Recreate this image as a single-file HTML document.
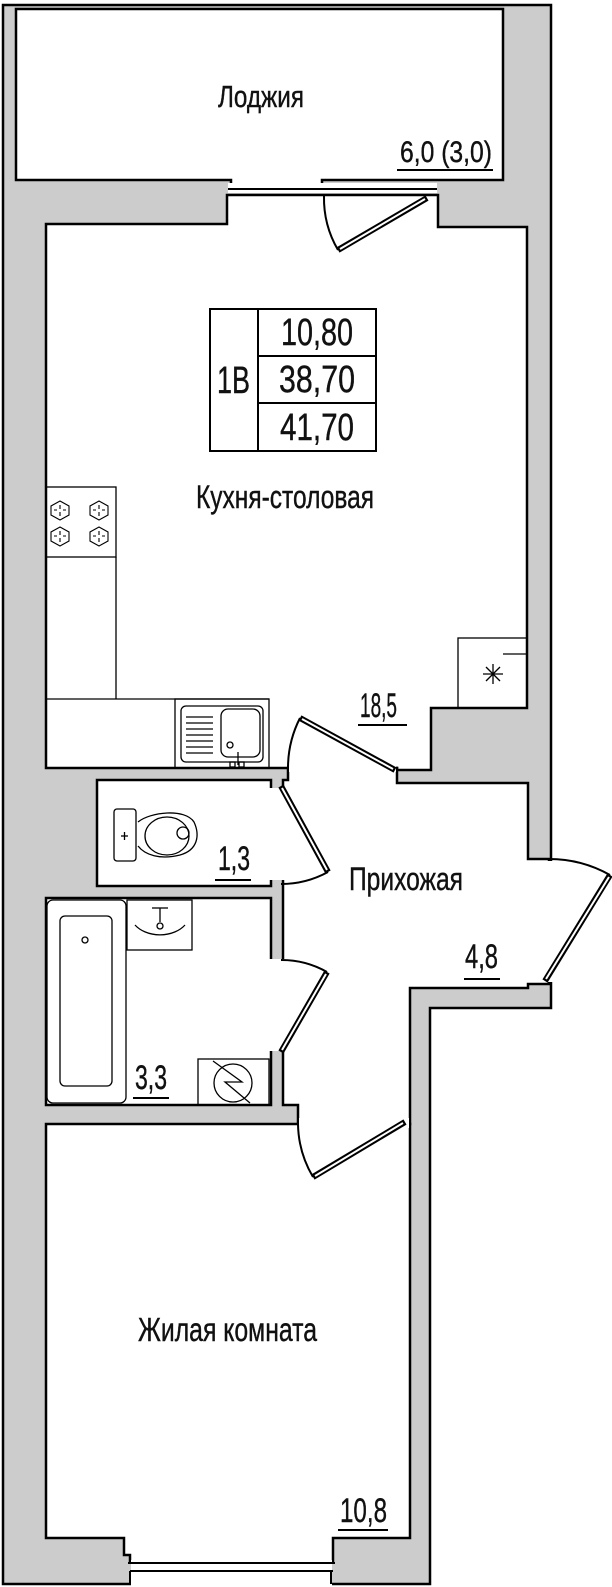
<!DOCTYPE html>
<html><head><meta charset="utf-8"><style>
html,body{margin:0;padding:0;background:#fff;}
svg{display:block;}
text{font-family:"Liberation Sans Narrow","Liberation Sans",sans-serif;fill:#111;stroke:#111;stroke-width:0.4;}
</style></head><body>
<svg width="612" height="1587" viewBox="0 0 612 1587" xmlns="http://www.w3.org/2000/svg">
<polygon points="3,5 551,5 551,1008 430,1008 430,1584 3,1584" fill="#cccccc" stroke="#000" stroke-width="2.5"/>
<g fill="#fff" stroke="#000" stroke-width="2.5">
<polygon points="16,9 503,9 503,180 322,180 322,189 231,189 231,180 16,180"/>
<polygon points="46,224 227,224 227,195 438,195 438,227 527,227 527,708 431,708 431,770 397,770 397,768 46,768"/>
<polygon points="288,768 397,768 397,783 528,783 528,859 549,859 549,984 528,984 528,988 410,988 410,1124 298,1124 298,1105 283,1105 283,780 288,780"/>
<rect x="97" y="780" width="174" height="106"/>
<rect x="46" y="898" width="225" height="207"/>
<polygon points="46,1124 410,1124 410,1538 333,1538 333,1562 130,1562 130,1555 124,1555 124,1538 46,1538"/>
</g>
<g fill="#fff">
<rect x="289" y="764" width="107" height="8"/>
<rect x="268" y="788" width="18" height="92"/>
<rect x="268" y="959" width="18" height="92"/>
<rect x="299" y="1118" width="110" height="10"/>
<rect x="544" y="861" width="12" height="121"/>
<rect x="131" y="1560" width="201" height="27"/>
<rect x="228" y="183" width="209" height="10"/>
</g>
<g stroke="#000" stroke-width="2" fill="none">
<line x1="128" y1="1563" x2="335" y2="1563"/>
<line x1="130" y1="1571" x2="333" y2="1571"/>
<line x1="130" y1="1571" x2="130" y2="1584"/>
<line x1="331" y1="1571" x2="331" y2="1584"/>
<line x1="228" y1="189" x2="437" y2="189"/>
</g>
<g fill="none" stroke="#000" stroke-width="2">
<path d="M338,250 A103,103 0 0 1 324,196"/>
<path d="M300,718 A110,110 0 0 0 288,768"/>
<path d="M328,872 A98,98 0 0 1 281,884"/>
<path d="M327,972 A92,92 0 0 0 281,960"/>
<path d="M313,1177 A107,107 0 0 1 298,1124"/>
<path d="M610,875 A124,124 0 0 0 549,859"/>
</g>
<g stroke="#000" stroke-width="6" stroke-linecap="butt">
<line x1="427" y1="198" x2="338" y2="250"/>
<line x1="395" y1="770" x2="300" y2="718"/>
<line x1="281" y1="786" x2="328" y2="872"/>
<line x1="281" y1="1052" x2="327" y2="972"/>
<line x1="405" y1="1122" x2="313" y2="1177"/>
<line x1="545" y1="981" x2="610" y2="875"/>
</g>
<g stroke="#fff" stroke-width="2">
<line x1="425" y1="199" x2="340" y2="249"/>
<line x1="393" y1="769" x2="302" y2="719"/>
<line x1="282" y1="788" x2="327" y2="870"/>
<line x1="282" y1="1050" x2="326" y2="974"/>
<line x1="403" y1="1123" x2="315" y2="1176"/>
<line x1="546" y1="979" x2="609" y2="877"/>
</g>
<g fill="none" stroke="#000" stroke-width="1.3">
<rect x="46" y="487" width="70" height="70"/>
<line x1="116" y1="557" x2="116" y2="699"/>
<line x1="46" y1="699" x2="269" y2="699"/>
<rect x="175" y="699" width="94" height="69"/>
<rect x="181" y="706" width="82" height="56" rx="5"/>
<rect x="221" y="709" width="39" height="48" rx="7"/>
<line x1="186" y1="717" x2="213" y2="717"/><line x1="186" y1="723" x2="213" y2="723"/>
<line x1="186" y1="729" x2="213" y2="729"/><line x1="186" y1="735" x2="213" y2="735"/>
<line x1="186" y1="741" x2="213" y2="741"/><line x1="186" y1="747" x2="213" y2="747"/>
<line x1="186" y1="753" x2="213" y2="753"/>
<circle cx="230" cy="745" r="3"/>
<line x1="238" y1="752" x2="238" y2="765"/>
<rect x="230" y="762" width="5" height="5"/><rect x="239" y="762" width="5" height="5"/>
<rect x="458" y="638" width="69" height="70"/>
<line x1="503" y1="654" x2="527" y2="654"/>
<line x1="493" y1="664" x2="493" y2="684"/>
<line x1="483" y1="674" x2="503" y2="674"/>
<line x1="486" y1="667" x2="500" y2="681"/>
<line x1="500" y1="667" x2="486" y2="681"/>
</g>
<g fill="none" stroke="#000" stroke-width="1.1">
<polygon points="60,501 69,506 69,515 60,520 51,515 51,506"/>
<polygon points="99,501 108,506 108,515 99,520 90,515 90,506"/>
<polygon points="60,527 69,532 69,541 60,546 51,541 51,532"/>
<polygon points="99,527 108,532 108,541 99,546 90,541 90,532"/>
<path d="M60,505v4M60,516v-4M54,510h3M66,510h-3M99,505v4M99,516v-4M93,510h3M105,510h-3M60,531v4M60,542v-4M54,536h3M66,536h-3M99,531v4M99,542v-4M93,536h3M105,536h-3"/>
</g>
<g fill="none" stroke="#000" stroke-width="1.3">
<rect x="114" y="809" width="22" height="52" rx="3"/>
<path d="M138,822 C150,812 185,808 194,822 C200,835 198,850 180,855 C160,860 145,855 138,846"/>
<ellipse cx="167" cy="836" rx="22" ry="19"/>
<circle cx="183" cy="833" r="6"/>
<line x1="121" y1="836" x2="128" y2="836"/><line x1="124.5" y1="832" x2="124.5" y2="840"/>
</g>
<g fill="none" stroke="#000" stroke-width="1.3">
<rect x="47" y="900" width="79" height="203" rx="6"/>
<rect x="60" y="916" width="52" height="170" rx="5"/>
<circle cx="85" cy="940" r="3"/>
<rect x="127" y="900" width="65" height="50"/>
<path d="M135,925 A30,22 0 0 0 185,925"/>
<line x1="160" y1="908" x2="160" y2="922"/><line x1="152" y1="908" x2="168" y2="908"/>
<circle cx="160" cy="926" r="3"/>
<rect x="198" y="1059" width="71" height="46"/>
<circle cx="233" cy="1083" r="19"/>
<polyline points="213,1061 242,1082 225,1082 250,1103"/>
</g>
<g fill="none" stroke="#000" stroke-width="2">
<rect x="210" y="309" width="166" height="142"/>
<line x1="258" y1="309" x2="258" y2="451"/>
<line x1="258" y1="356" x2="376" y2="356"/>
<line x1="258" y1="403" x2="376" y2="403"/>
</g>
<g stroke="#000" stroke-width="2">
<line x1="397" y1="170" x2="493" y2="170"/>
<line x1="358" y1="725" x2="407" y2="725"/>
<line x1="215" y1="880" x2="251" y2="880"/>
<line x1="133" y1="1098" x2="169" y2="1098"/>
<line x1="464" y1="979" x2="500" y2="979"/>
<line x1="338" y1="1530" x2="388" y2="1530"/>
</g>
<text x="218" y="107" font-size="31" textLength="86" lengthAdjust="spacingAndGlyphs">Лоджия</text>
<text x="400" y="162" font-size="30" textLength="92" lengthAdjust="spacingAndGlyphs">6,0 (3,0)</text>
<text x="217" y="393" font-size="38" textLength="33" lengthAdjust="spacingAndGlyphs">1В</text>
<text x="281" y="345" font-size="38" textLength="72" lengthAdjust="spacingAndGlyphs">10,80</text>
<text x="279" y="392" font-size="38" textLength="76" lengthAdjust="spacingAndGlyphs">38,70</text>
<text x="280" y="440" font-size="38" textLength="74" lengthAdjust="spacingAndGlyphs">41,70</text>
<text x="196" y="508" font-size="32" textLength="178" lengthAdjust="spacingAndGlyphs">Кухня-столовая</text>
<text x="360" y="717" font-size="34" textLength="37" lengthAdjust="spacingAndGlyphs">18,5</text>
<text x="218" y="870" font-size="34" textLength="32" lengthAdjust="spacingAndGlyphs">1,3</text>
<text x="349" y="890" font-size="32" textLength="114" lengthAdjust="spacingAndGlyphs">Прихожая</text>
<text x="465" y="968" font-size="34" textLength="33" lengthAdjust="spacingAndGlyphs">4,8</text>
<text x="135" y="1089" font-size="34" textLength="32" lengthAdjust="spacingAndGlyphs">3,3</text>
<text x="138" y="1341" font-size="33" textLength="179" lengthAdjust="spacingAndGlyphs">Жилая комната</text>
<text x="340" y="1522" font-size="34" textLength="47" lengthAdjust="spacingAndGlyphs">10,8</text>
</svg>
</body></html>
